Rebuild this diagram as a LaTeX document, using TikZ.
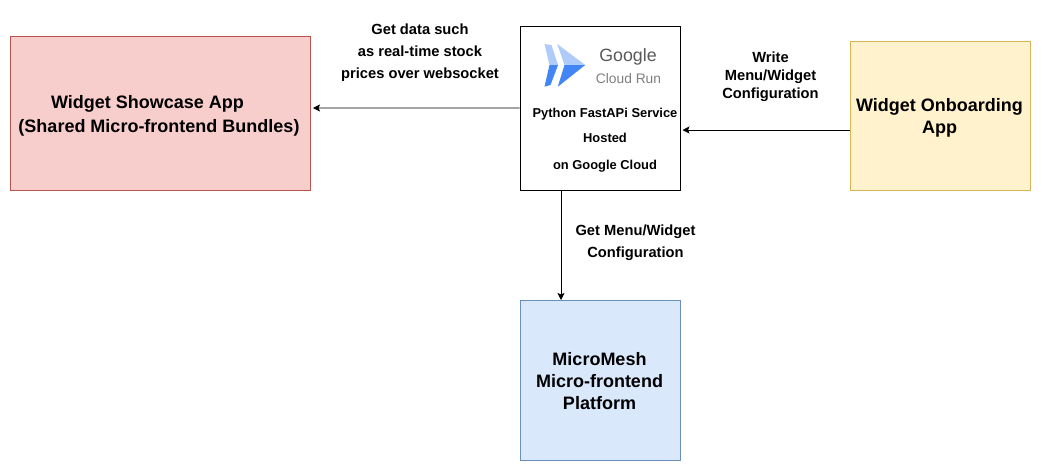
\documentclass[tikz,border=0pt]{standalone}
\usepackage{fontspec}
\setmainfont{Liberation Sans}
\usetikzlibrary{arrows.meta}
\definecolor{logolight}{HTML}{AECBFA}
\definecolor{logodark}{HTML}{4285F4}
\definecolor{redfill}{HTML}{F8CECC}
\definecolor{redline}{HTML}{B85450}
\definecolor{yelfill}{HTML}{FFF2CC}
\definecolor{yelline}{HTML}{D6B656}
\definecolor{bluefill}{HTML}{DAE8FC}
\definecolor{blueline}{HTML}{6C8EBF}
\tikzset{
  box/.style={draw=#1,line width=0.75pt,inner sep=0pt,anchor=north west},
  svclbl/.style={font=\bfseries\fontsize{12.9}{12.9}\selectfont,inner sep=0pt},
  mainlbl/.style={font=\bfseries\fontsize{18}{#1}\selectfont,align=center,inner sep=0pt},
  edgelbl/.style={font=\bfseries\fontsize{14.7}{#1}\selectfont,align=center,inner sep=0pt},
  link/.style={draw=black,line width=0.75pt,-{Stealth[length=7pt,width=7pt,inset=1.5pt]}}
}
\begin{document}
\begin{tikzpicture}[x=1pt,y=-1pt]
\useasboundingbox (0,0) rectangle (1042,472);
\fill[white] (0,0) rectangle (1042,472);
\node[box=redline,fill=redfill,minimum width=300pt,minimum height=154pt] (showcase) at (9.7,35.5) {};
\node[box=black,fill=white,minimum width=160.5pt,minimum height=164pt] (svc) at (519.7,25.5) {};
\node[box=yelline,fill=yelfill,minimum width=180pt,minimum height=149pt] (onboard) at (849.7,40.5) {};
\node[box=blueline,fill=bluefill,minimum width=160pt,minimum height=160pt] (mesh) at (519.7,300) {};

\fill[logolight] (544.5,44) -- (551.5,45) -- (558,65) -- (549.5,65) -- cycle;
\fill[logodark] (549.5,65) -- (558,65) -- (550.5,85) -- (544.5,86.7) -- cycle;
\fill[logolight] (557.2,44) -- (585.2,65) -- (564.5,65) -- cycle;
\fill[logodark] (564.5,65) -- (585.2,65) -- (557.8,86.7) -- cycle;
\node[inner sep=0pt,text=black!65,font=\fontsize{17.8}{17.8}\selectfont] (google) at (628,57) {Google};
\node[inner sep=0pt,text=black!50,font=\fontsize{13.8}{13.8}\selectfont] (cloudrun) at (628.5,78.5) {Cloud Run};

\node[svclbl] (svc1) at (605,114.5) {Python FastAPi Service};
\node[svclbl] (svc2) at (605,137.5) {Hosted};
\node[svclbl] (svc3) at (605,166) {on Google Cloud};

\node[mainlbl=23] (showcaselbl) at (147.5,104) {Widget Showcase App};
\node[mainlbl=23] (showcaselb2) at (159,127.5) {(Shared Micro-frontend Bundles)};
\node[mainlbl=22] (onboardlbl) at (939.5,117.5) {Widget Onboarding\\App};
\node[mainlbl=22] (meshlbl) at (599.5,381) {MicroMesh\\Micro-frontend\\Platform};

\node[edgelbl=21.7] (top) at (420,52.5) {Get data such\\as real-time stock\\prices over websocket};
\node[edgelbl=18] (write) at (770.5,76.5) {Write\\Menu/Widget\\Configuration};
\node[edgelbl=22] (getcfg) at (635.5,243) {Get Menu/Widget\\Configuration};

\coordinate (a1) at (313,108);
\coordinate (a2) at (682.5,130);
\coordinate (a3) at (849.7,130);
\coordinate (a4) at (561,189.5);
\coordinate (a5) at (561,300);
\draw[link] (svc.west) -- (a1);
\draw[link] (a3) -- (a2);
\draw[link] (a4) -- (a5);
\end{tikzpicture}
\end{document}
